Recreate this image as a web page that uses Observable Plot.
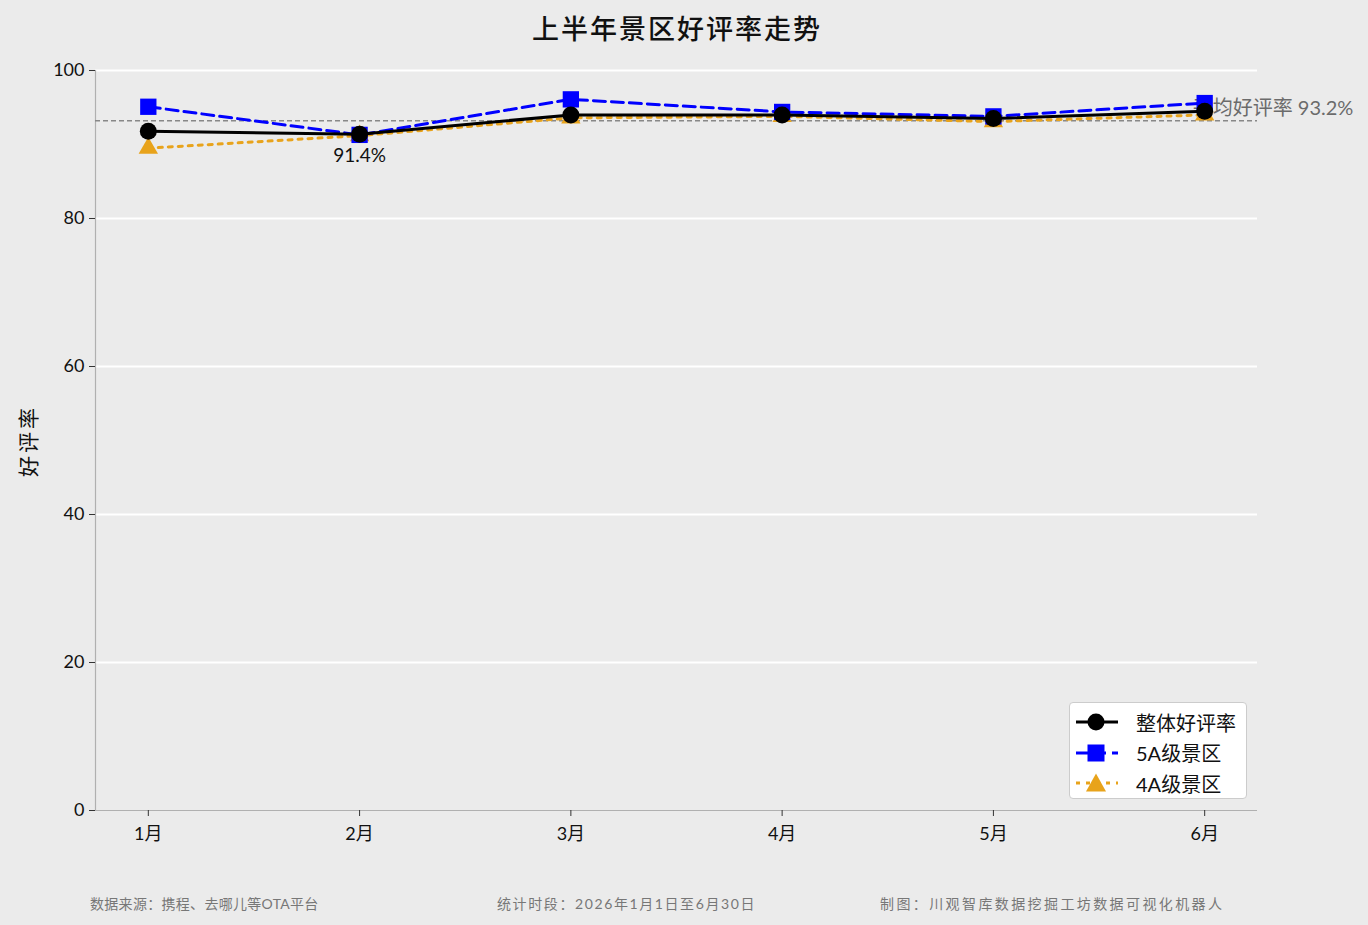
<!DOCTYPE html>
<html><head><meta charset="utf-8">
<script src="https://cdn.jsdelivr.net/npm/d3@7"></script>
<script src="https://cdn.jsdelivr.net/npm/@observablehq/plot@0.6"></script>
<style>
body{margin:0;background:#ebebeb;font-family:Lato,"Noto Sans CJK SC",sans-serif;}
#wrap{position:relative;width:1368px;height:925px;background:#ebebeb;overflow:hidden;}
#title{position:absolute;left:0;width:1354px;top:8px;text-align:center;font-size:27px;font-weight:500;color:#111;letter-spacing:2px;}
#ylab{position:absolute;left:27px;top:441px;transform:translate(-50%,-50%) rotate(-90deg);font-size:21px;color:#111;white-space:nowrap;letter-spacing:3px;}
.foot{position:absolute;top:893px;font-size:14px;color:#777;white-space:nowrap;}
#legend{position:absolute;left:1069px;top:702px;width:176px;height:95px;background:#fff;border:1.5px solid #ccc;border-radius:4px;}
.lrow{position:absolute;left:4px;height:30px;display:flex;align-items:center;}
.lrow span{margin-left:16px;font-size:20px;color:#111;}
</style></head>
<body><div id="wrap"></div>
<script>
const months = ["1月","2月","3月","4月","5月","6月"];
const overall = [91.8, 91.4, 94.0, 94.0, 93.5, 94.5];
const fiveA   = [95.1, 91.3, 96.1, 94.4, 93.8, 95.6];
const fourA   = [89.5, 91.2, 93.6, 93.8, 93.1, 94.0];
const seriesNames = ["整体好评率","5A级景区","4A级景区"];
const yTicks = [0,20,40,60,80,100];
const footTexts = ["数据来源：携程、去哪儿等OTA平台","统计时段：2026年1月1日至6月30日","制图：川观智库数据挖掘工坊数据可视化机器人"];
const minLabel = "91.4%";

const meanVal = +d3.mean(overall).toFixed(1);
const idx = d3.range(months.length);
const rows = arr => arr.map((v,i)=>({i, v}));
const xPad = 0.25;
const minIdx = d3.minIndex(overall);

const colors = {overall:"#000000", five:"#0000ff", four:"#e8a31b"};

const chart = Plot.plot({
  width:1368, height:925,
  marginLeft:95, marginRight:111, marginTop:70, marginBottom:115,
  style:{background:"#ebebeb", fontFamily:'Lato,"Noto Sans CJK SC",sans-serif', color:"#111"},
  x:{domain:[-xPad, months.length-1+xPad], axis:null},
  y:{domain:[0,100], axis:null},
  marks:[
    Plot.ruleY(yTicks.filter(d=>d>0), {stroke:"#ffffff", strokeWidth:2}),
    Plot.ruleY([0], {stroke:"#b0b0b0", strokeWidth:1.2}),
    Plot.ruleX([-xPad], {stroke:"#b0b0b0", strokeWidth:1.2}),
    Plot.axisY(yTicks, {tickSize:6, tickPadding:5, fontSize:18, stroke:"#333", label:null}),
    Plot.axisX(idx, {tickSize:6, tickPadding:11, fontSize:18, tickFormat:i=>months[i], stroke:"#333", label:null}),
    Plot.ruleY([meanVal], {stroke:"#888", strokeWidth:1.5, strokeDasharray:"5,3"}),
    Plot.text([meanVal], {x:months.length-1, y:d=>d, text:d=>`平均好评率 ${d}%`, textAnchor:"start", dx:-12, dy:-12, fill:"#6b6b6b", fontSize:20}),
    Plot.line(rows(fourA), {x:"i", y:"v", stroke:colors.four, strokeWidth:3, strokeDasharray:"4,6"}),
    Plot.dot(rows(fourA), {x:"i", y:"v", symbol:"triangle", r:7.2, fill:colors.four, stroke:null}),
    Plot.line(rows(fiveA), {x:"i", y:"v", stroke:colors.five, strokeWidth:3, strokeDasharray:"12,6"}),
    Plot.dot(rows(fiveA), {x:"i", y:"v", symbol:"square", r:9.2, fill:colors.five, stroke:null}),
    Plot.line(rows(overall), {x:"i", y:"v", stroke:colors.overall, strokeWidth:3}),
    Plot.dot(rows(overall), {x:"i", y:"v", symbol:"circle", r:8.5, fill:colors.overall, stroke:null}),
    Plot.text([overall[minIdx]], {x:minIdx, y:d=>d, text:()=>minLabel, dy:22, fontSize:19, fill:"#111"})
  ]
});
const wrap = document.getElementById("wrap");
wrap.appendChild(chart);

const t = document.createElement("div"); t.id="title"; t.textContent="上半年景区好评率走势"; wrap.appendChild(t);
const yl = document.createElement("div"); yl.id="ylab"; yl.textContent="好评率"; wrap.appendChild(yl);
const footX = [90, 497, 880];
const footSpacing = [0.3, 1.6, 2.4];
footTexts.forEach((s,k)=>{const f=document.createElement("div"); f.className="foot"; f.style.left=footX[k]+"px"; f.style.letterSpacing=footSpacing[k]+"px"; f.textContent=s; wrap.appendChild(f);});

const lg = document.createElement("div"); lg.id="legend"; wrap.appendChild(lg);
const handles = [
  {c:colors.overall, dash:"", m:'<circle cx="22" cy="15" r="8.5"/>'},
  {c:colors.five, dash:"12,6", m:'<rect x="13.5" y="6.5" width="17" height="17"/>'},
  {c:colors.four, dash:"4,6", m:'<path d="M22,5.5 L32,23.5 L12,23.5 Z"/>'}
];
handles.forEach((h,k)=>{
  const r=document.createElement("div"); r.className="lrow"; r.style.top=(4+k*30.5)+"px";
  r.innerHTML=`<svg width="46" height="30"><line x1="2" x2="44" y1="15" y2="15" stroke="${h.c}" stroke-width="3" stroke-dasharray="${h.dash}"/><g fill="${h.c}">${h.m}</g></svg><span>${seriesNames[k]}</span>`;
  lg.appendChild(r);
});
</script>
</body></html>
